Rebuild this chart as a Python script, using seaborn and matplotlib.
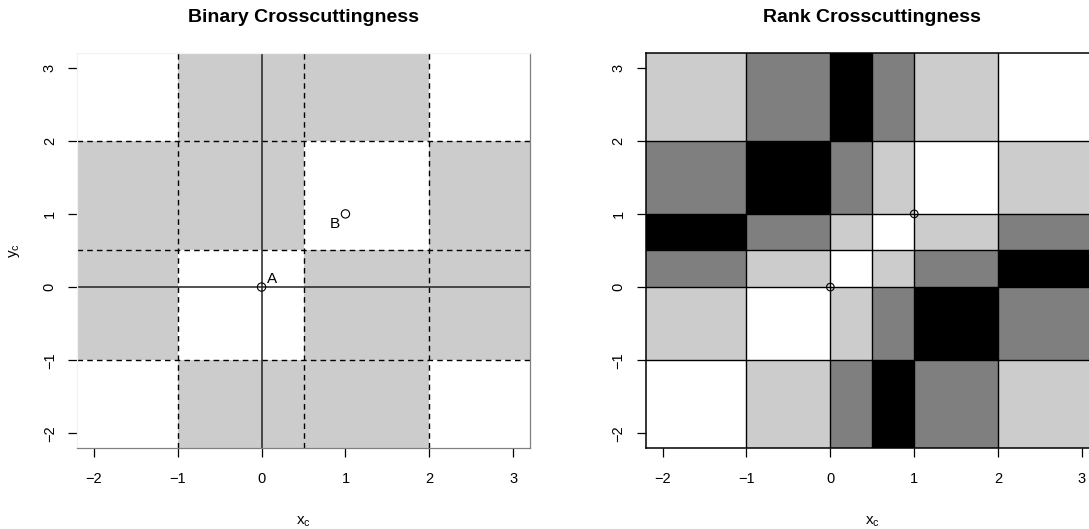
import matplotlib
matplotlib.use('Agg')
import matplotlib.pyplot as plt
from matplotlib.colors import ListedColormap
import seaborn as sns

# binary panel: cell edges and fill (0 = white, 1 = grey), rows from bottom to top
bin_x_edges = [-2.2, -1, 0.5, 2, 3.2]
bin_y_edges = [-2.2, -1, 0.5, 2, 3.2]
bin_cells = [[0, 1, 1, 0],
             [1, 0, 1, 1],
             [1, 1, 0, 1],
             [0, 1, 1, 0]]
bin_dashed = [-1, 0.5, 2]
bin_solid = [0]

# rank panel: 0 = white, 1 = light grey, 2 = dark grey, 3 = black
rank_x_edges = [-2.2, -1, 0, 0.5, 1, 2, 3.2]
rank_y_edges = [-2.2, -1, 0, 0.5, 1, 2, 3.2]
rank_cells = [[0, 1, 2, 3, 2, 1],
              [1, 0, 1, 2, 3, 2],
              [2, 1, 0, 1, 2, 3],
              [3, 2, 1, 0, 1, 2],
              [2, 3, 2, 1, 0, 1],
              [1, 2, 3, 2, 1, 0]]
rank_lines = [-1, 0, 0.5, 1, 2]

pt_x = [0, 1]
pt_y = [0, 1]
pt_labels = ['A', 'B']

ticks = [-2, -1, 0, 1, 2, 3]
lims = (-2.2, 3.2)

sns.set_theme(style='white')
plt.rcParams['font.family'] = ['Liberation Sans', 'DejaVu Sans']
plt.rcParams['axes.unicode_minus'] = True
for key in ['text.color', 'axes.labelcolor', 'xtick.color', 'ytick.color']:
    plt.rcParams[key] = 'black'

fig = plt.figure(figsize=(10.89, 5.29), dpi=100)
ax1 = fig.add_axes([0.0707, 0.153, 0.416, 0.747])
ax2 = fig.add_axes([0.593, 0.153, 0.416, 0.747])


def style_axes(ax):
    ax.set_xlim(lims)
    ax.set_ylim(lims)
    ax.set_xticks(ticks)
    ax.set_yticks(ticks)
    ax.tick_params(axis='both', which='both', direction='out', length=6.5, width=0.9,
                   color='black', labelcolor='black', labelsize=10.5,
                   left=True, bottom=True)
    ax.tick_params(axis='x', pad=11)
    ax.tick_params(axis='y', pad=8)
    for lab in ax.get_yticklabels():
        lab.set_rotation(90)
        lab.set_va('center')
    ax.set_xlabel(r'$\mathregular{x_c}$', fontsize=11, labelpad=20)


# ---- binary crosscuttingness
ax1.pcolormesh(bin_x_edges, bin_y_edges, bin_cells,
               cmap=ListedColormap(['white', '#cccccc']), vmin=0, vmax=1,
               edgecolors='none', antialiased=False, zorder=0)
for v in bin_dashed:
    ax1.axvline(v, color='black', lw=1, ls=(0, (4, 3)), zorder=2)
    ax1.axhline(v, color='black', lw=1, ls=(0, (4, 3)), zorder=2)
for v in bin_solid:
    ax1.axvline(v, color='#222222', lw=1.1, zorder=2)
    ax1.axhline(v, color='#222222', lw=1.1, zorder=2)
sns.scatterplot(x=pt_x, y=pt_y, ax=ax1, s=36, facecolor='none',
                edgecolor='black', linewidth=0.8, zorder=5)
offsets = [(7.6, 6), (-7.7, -7)]
for x, y, lab, off in zip(pt_x, pt_y, pt_labels, offsets):
    ax1.annotate(lab, (x, y), xytext=off, textcoords='offset points',
                 ha='center', va='center', fontsize=11)
style_axes(ax1)
ax1.set_ylabel(r'$\mathregular{y_c}$', fontsize=11, labelpad=15)
ax1.set_title('Binary Crosscuttingness', fontsize=14, fontweight='bold', pad=22)
for side in ['top', 'left']:
    ax1.spines[side].set_color('#f2f2f2')
for side in ['bottom', 'right']:
    ax1.spines[side].set_color('#808080')
for sp in ax1.spines.values():
    sp.set_linewidth(0.9)

# ---- rank crosscuttingness
ax2.pcolormesh(rank_x_edges, rank_y_edges, rank_cells,
               cmap=ListedColormap(['white', '#cccccc', '#7f7f7f', 'black']),
               vmin=0, vmax=3, edgecolors='none', antialiased=False, zorder=0)
for v in rank_lines:
    ax2.axvline(v, color='black', lw=1, zorder=2)
    ax2.axhline(v, color='black', lw=1, zorder=2)
sns.scatterplot(x=pt_x, y=pt_y, ax=ax2, s=30, facecolor='none',
                edgecolor='black', linewidth=0.8, zorder=5)
style_axes(ax2)
ax2.set_ylabel('')
ax2.set_title('Rank Crosscuttingness', fontsize=14, fontweight='bold', pad=22)
for sp in ax2.spines.values():
    sp.set_color('black')
    sp.set_linewidth(1.1)

fig.savefig('out.png', dpi=100)
